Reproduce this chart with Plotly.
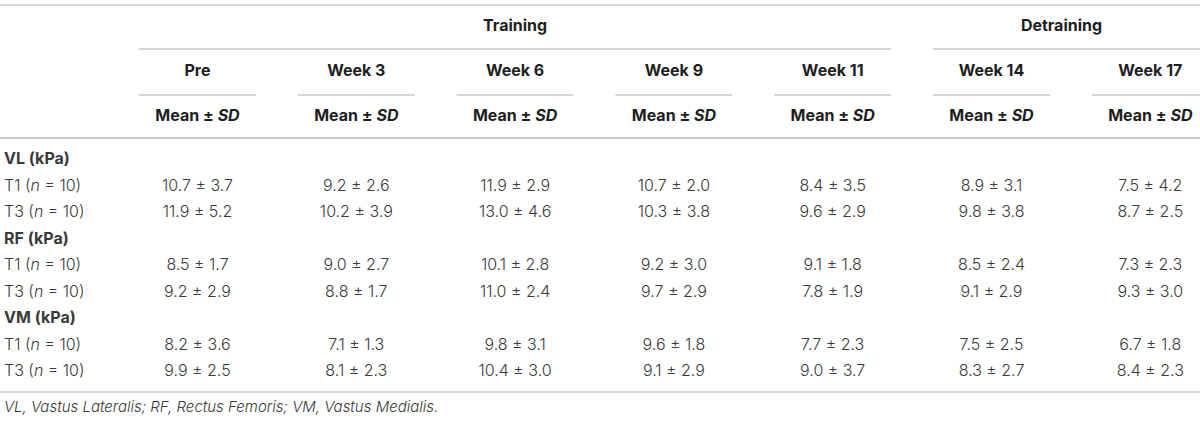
import plotly.graph_objects as go

# ---------------- data ----------------
periods = ["Pre", "Week 3", "Week 6", "Week 9", "Week 11", "Week 14", "Week 17"]
groups = [("Training", 0, 4), ("Detraining", 5, 6)]
muscles = ["VL (kPa)", "RF (kPa)", "VM (kPa)"]
subgroups = ["T1", "T3"]
n_per_group = 10

vl_t1_mean = [10.7, 9.2, 11.9, 10.7, 8.4, 8.9, 7.5]
vl_t1_sd = [3.7, 2.6, 2.9, 2.0, 3.5, 3.1, 4.2]
vl_t3_mean = [11.9, 10.2, 13.0, 10.3, 9.6, 9.8, 8.7]
vl_t3_sd = [5.2, 3.9, 4.6, 3.8, 2.9, 3.8, 2.5]
rf_t1_mean = [8.5, 9.0, 10.1, 9.2, 9.1, 8.5, 7.3]
rf_t1_sd = [1.7, 2.7, 2.8, 3.0, 1.8, 2.4, 2.3]
rf_t3_mean = [9.2, 8.8, 11.0, 9.7, 7.8, 9.1, 9.3]
rf_t3_sd = [2.9, 1.7, 2.4, 2.9, 1.9, 2.9, 3.0]
vm_t1_mean = [8.2, 7.1, 9.8, 9.6, 7.7, 7.5, 6.7]
vm_t1_sd = [3.6, 1.3, 3.1, 1.8, 2.3, 2.5, 1.8]
vm_t3_mean = [9.9, 8.1, 10.4, 9.1, 9.0, 8.3, 8.4]
vm_t3_sd = [2.5, 2.3, 3.0, 2.9, 3.7, 2.7, 2.3]

footnote = "VL, Vastus Lateralis; RF, Rectus Femoris; VM, Vastus Medialis."

table = {
    "VL (kPa)": [(vl_t1_mean, vl_t1_sd), (vl_t3_mean, vl_t3_sd)],
    "RF (kPa)": [(rf_t1_mean, rf_t1_sd), (rf_t3_mean, rf_t3_sd)],
    "VM (kPa)": [(vm_t1_mean, vm_t1_sd), (vm_t3_mean, vm_t3_sd)],
}

# ---------------- layout geometry ----------------
W, H = 1200, 421
col0_left = 139.0
col_width = 117.0
col_pitch = 158.8
label_x = 4
y_top_line = 5
y_group = 27
y_group_line = 49
y_period = 72
y_period_line = 95
y_mean = 117
y_head_line = 138
row_start = 160
row_pitch = 26.5
y_bottom_line = 392
y_foot = 408

line_color = "#c9c9c9"
body_color = "#3a3a3a"
head_color = "#1e1e1e"
FONT = "Inter"
FS = 16


def col_left(i):
    return col0_left + i * col_pitch


def col_center(i):
    return col_left(i) + col_width / 2


fig = go.Figure()
shapes = []


def hline(x0, x1, y, w=1.5):
    shapes.append(dict(type="line", xref="x", yref="y", x0=x0, x1=x1, y0=y, y1=y,
                       line=dict(color=line_color, width=w)))


hline(0, W, y_top_line)
hline(0, W, y_head_line, 2)
hline(0, W, y_bottom_line, 1.5)
for name, a, b in groups:
    x1 = col_left(b) + col_width if b < len(periods) - 1 else W
    hline(col_left(a), x1, y_group_line)
for i in range(len(periods)):
    x1 = col_left(i) + col_width if i < len(periods) - 1 else W
    hline(col_left(i), x1, y_period_line)

# header texts
hx, hy, ht = [], [], []
for name, a, b in groups:
    x1 = col_left(b) + col_width if b < len(periods) - 1 else W - 10
    hx.append((col_left(a) + x1) / 2)
    hy.append(y_group)
    ht.append("<b>%s</b>" % name)
for i, p in enumerate(periods):
    hx += [col_center(i), col_center(i)]
    hy += [y_period, y_mean]
    ht += ["<b>%s</b>" % p, "<b>Mean \u00b1 <i>SD</i></b>"]
fig.add_trace(go.Scatter(x=hx, y=hy, text=ht, mode="text", textposition="middle center",
                         textfont=dict(family=FONT, size=FS, color=head_color),
                         hoverinfo="skip", showlegend=False))

# row labels
lx, ly, lt = [], [], []
cx, cy, ct = [], [], []
r = 0
for m in muscles:
    lx.append(label_x)
    ly.append(row_start + r * row_pitch)
    lt.append("<b>%s</b>" % m)
    r += 1
    for g, (means, sds) in zip(subgroups, table[m]):
        y = row_start + r * row_pitch
        lx.append(label_x)
        ly.append(y)
        lt.append("%s (<i>n</i> = %d)" % (g, n_per_group))
        for i in range(len(periods)):
            cx.append(col_center(i))
            cy.append(y)
            ct.append("%.1f \u00b1 %.1f" % (means[i], sds[i]))
        r += 1

fig.add_trace(go.Scatter(x=lx, y=ly, text=lt, mode="text", textposition="middle right",
                         textfont=dict(family=FONT, size=FS, color=body_color, weight=300),
                         hoverinfo="skip", showlegend=False))
fig.add_trace(go.Scatter(x=cx, y=cy, text=ct, mode="text", textposition="middle center",
                         textfont=dict(family=FONT, size=FS, color=body_color, weight=300),
                         hoverinfo="skip", showlegend=False))
fig.add_trace(go.Scatter(x=[label_x], y=[y_foot], text=["<i>%s</i>" % footnote], mode="text",
                         textposition="middle right",
                         textfont=dict(family=FONT, size=15, color=body_color, weight=300),
                         hoverinfo="skip", showlegend=False))

fig.update_layout(
    width=W, height=H, autosize=False,
    margin=dict(l=0, r=0, t=0, b=0),
    paper_bgcolor="white", plot_bgcolor="white",
    shapes=shapes,
    xaxis=dict(range=[0, W], visible=False, fixedrange=True),
    yaxis=dict(range=[H, 0], visible=False, fixedrange=True),
)

fig.write_html("out.html",
               config={"displayModeBar": False},
               post_script="document.body.style.margin='0';document.body.style.overflow='hidden';")
